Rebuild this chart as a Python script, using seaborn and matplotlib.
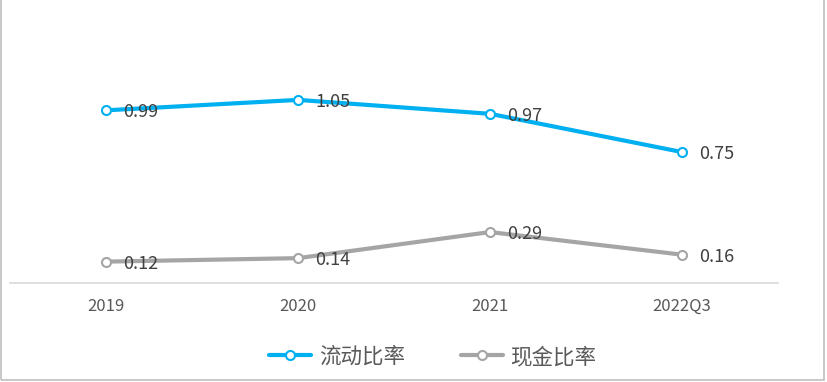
import matplotlib
matplotlib.use("Agg")
import matplotlib.pyplot as plt
import seaborn as sns
import pandas as pd
from matplotlib.patches import Rectangle
from matplotlib.lines import Line2D

categories = ["2019", "2020", "2021", "2022Q3"]
current_ratio = [0.99, 1.05, 0.97, 0.75]
cash_ratio = [0.12, 0.14, 0.29, 0.16]
series_names = ["流动比率", "现金比率"]
colors = ["#00B0F0", "#A5A5A5"]

sns.set_theme(style="white")
plt.rcParams['font.family'] = ['Noto Sans CJK SC', 'DejaVu Sans']

df = pd.DataFrame({
    "period": categories * 2,
    "value": current_ratio + cash_ratio,
    "series": [series_names[0]] * 4 + [series_names[1]] * 4,
})

W, H = 828, 382
fig = plt.figure(figsize=(W / 100, H / 100), dpi=100)
ax = fig.add_axes([10 / W, (H - 282.5) / H, 768 / W, 260 / H])

sns.lineplot(data=df, x="period", y="value", hue="series", palette=colors,
             sort=False, ax=ax, linewidth=3.0, marker="o", markersize=6.5,
             markerfacecolor="white", markeredgewidth=1.5, legend=False)
for line, c in zip(ax.lines, colors):
    line.set_markeredgecolor(c)

ax.set_xlim(-0.5, 3.5)
ax.set_ylim(0, 1.495)
ax.set_xlabel("")
ax.set_ylabel("")
ax.set_yticks([])
for s in ["top", "left", "right"]:
    ax.spines[s].set_visible(False)
ax.spines["bottom"].set_color("#D9D9D9")
ax.spines["bottom"].set_linewidth(1.2)
ax.tick_params(axis="x", length=0, pad=11, labelsize=12, labelcolor="#595959")

for vals in (current_ratio, cash_ratio):
    for i, v in enumerate(vals):
        ax.annotate(f"{v:.2f}", (i, v), xytext=(12.5, -1.5), textcoords="offset points",
                    ha="left", va="center", fontsize=13, color="#404040")

handles = [Line2D([0], [0], color=c, lw=3.0, marker="o", markersize=6.5,
                  markerfacecolor="white", markeredgecolor=c, markeredgewidth=1.5)
           for c in colors]
fig.legend(handles, series_names, loc="center", bbox_to_anchor=(433 / W, 1 - 357 / H),
           ncol=2, frameon=False, fontsize=15.5, handlelength=1.95, columnspacing=2.6,
           handletextpad=0.35, labelcolor="#595959")

fig.patches.append(Rectangle((1 / W, 2 / H), 823 / W, 1.2, transform=fig.transFigure,
                             fill=False, edgecolor="#BFBFBF", linewidth=1.2))

fig.savefig("out.png", dpi=100)
